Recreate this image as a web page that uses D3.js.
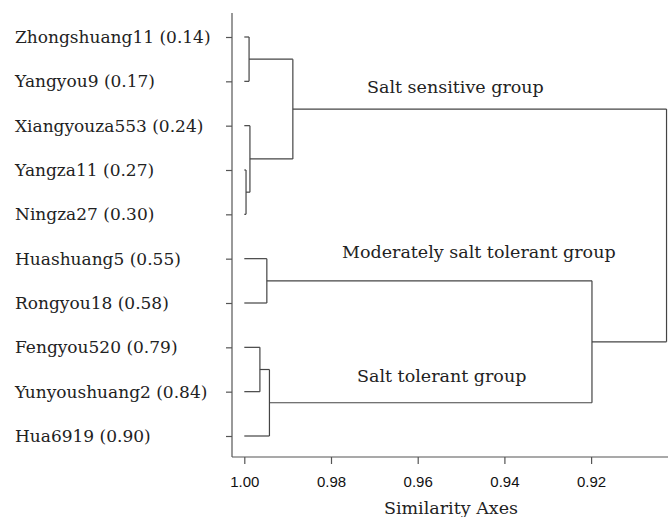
<!DOCTYPE html>
<html>
<head>
<meta charset="utf-8">
<script src="https://cdn.jsdelivr.net/npm/d3@7"></script>
<style>
  body { margin: 0; background: #fff; }
  svg { display: block; }
</style>
</head>
<body>
<svg id="chart" width="668" height="517"></svg>
<script>
// leaves, top to bottom
var leafNames = ['Zhongshuang11', 'Yangyou9', 'Xiangyouza553', 'Yangza11', 'Ningza27',
                 'Huashuang5', 'Rongyou18', 'Fengyou520', 'Yunyoushuang2', 'Hua6919'];
var leafScores = [0.14, 0.17, 0.24, 0.27, 0.30, 0.55, 0.58, 0.79, 0.84, 0.90];

// merges: node 10 + k joins mergePairs[k] at similarity mergeSimilarity[k]
var mergePairs = [[0, 1], [3, 4], [2, 11], [10, 12], [5, 6], [7, 8], [15, 9], [14, 16], [13, 17]];
var mergeSimilarity = [0.9989, 0.9996, 0.9987, 0.9888, 0.9948, 0.9964, 0.9942, 0.9198, 0.9026];

var xTicks = [1.00, 0.98, 0.96, 0.94, 0.92];
var groupNames = ['Salt sensitive group', 'Moderately salt tolerant group', 'Salt tolerant group'];
var groupNodes = [13, 14, 16];

var svg = d3.select('#chart');
var serif = '"DejaVu Serif", serif';

var x = d3.scaleLinear().domain([1.00, 0.90]).range([244.3, 677.8]);
var y = d3.scalePoint().domain(leafNames).range([37, 436]);

var axisX0 = 232, axisY0 = 457, axisTop = 13;

// nodes
var nodes = leafNames.map(function(n) { return {x: x(1), y: y(n)}; });
mergePairs.forEach(function(p, k) {
  var a = nodes[p[0]], b = nodes[p[1]];
  nodes.push({x: x(mergeSimilarity[k]), y: (a.y + b.y) / 2, a: a, b: b});
});

// axes
svg.append('line')
  .attr('x1', axisX0).attr('x2', axisX0).attr('y1', axisTop).attr('y2', axisY0)
  .attr('stroke', '#555').attr('stroke-width', 1.2);
svg.append('line')
  .attr('x1', axisX0).attr('x2', 668).attr('y1', axisY0).attr('y2', axisY0)
  .attr('stroke', '#555').attr('stroke-width', 1.2);

var gx = svg.append('g')
  .attr('transform', 'translate(0,' + axisY0 + ')')
  .call(d3.axisBottom(x).tickValues(xTicks).tickFormat(d3.format('.2f')).tickSize(7).tickPadding(12));
gx.select('.domain').remove();
gx.selectAll('line').attr('stroke', '#555').attr('stroke-width', 1.2);
gx.selectAll('text')
  .attr('font-family', '"Liberation Sans", Arial, sans-serif')
  .attr('font-size', 15).attr('fill', '#111');

var gy = svg.append('g')
  .attr('transform', 'translate(' + axisX0 + ',0)')
  .call(d3.axisLeft(y).tickSize(6).tickFormat(''));
gy.select('.domain').remove();
gy.selectAll('line').attr('stroke', '#555').attr('stroke-width', 1.2);

// leaf labels
svg.selectAll('.leaf')
  .data(leafNames)
  .enter().append('text')
  .attr('class', 'leaf')
  .attr('x', 15)
  .attr('y', function(d) { return y(d) + 6; })
  .attr('font-family', serif).attr('font-size', 17).attr('fill', '#222')
  .text(function(d, i) { return d + ' (' + leafScores[i].toFixed(2) + ')'; });

// dendrogram
var links = svg.append('g').attr('fill', 'none').attr('stroke', '#444').attr('stroke-width', 1.2);
nodes.slice(leafNames.length).forEach(function(n) {
  [n.a, n.b].forEach(function(c) {
    links.append('path').attr('d', 'M' + c.x + ',' + c.y + 'H' + n.x);
  });
  links.append('path').attr('d', 'M' + n.x + ',' + n.a.y + 'V' + n.b.y);
});

// group labels
var groupPos = [[367, -16], [342, -23], [357, -21]];
groupNames.forEach(function(g, i) {
  svg.append('text')
    .attr('x', groupPos[i][0])
    .attr('y', nodes[groupNodes[i]].y + groupPos[i][1])
    .attr('font-family', serif).attr('font-size', 17.5).attr('fill', '#222')
    .text(g);
});

svg.append('text')
  .attr('x', 451).attr('y', 514)
  .attr('text-anchor', 'middle')
  .attr('font-family', serif).attr('font-size', 17.5).attr('fill', '#222')
  .text('Similarity Axes');
</script>
</body>
</html>
